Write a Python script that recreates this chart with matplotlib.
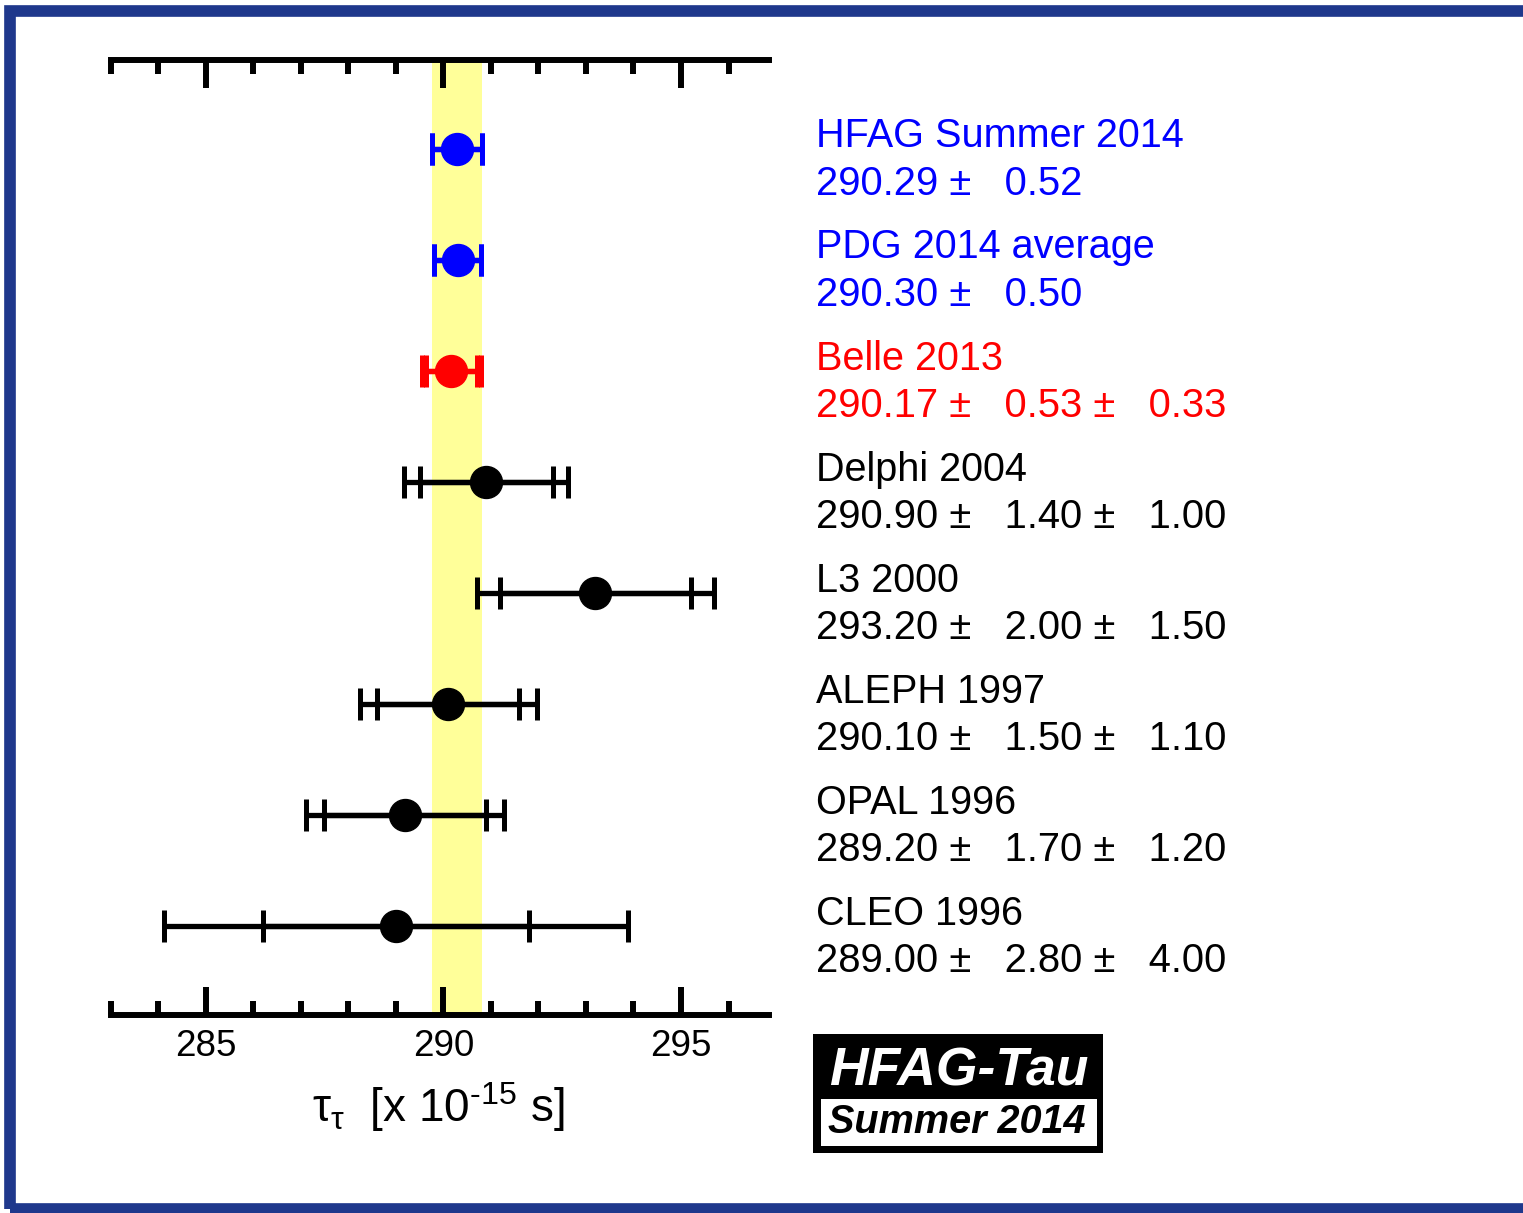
import matplotlib
matplotlib.use("Agg")
import matplotlib.pyplot as plt
import matplotlib.transforms as mtransforms
from matplotlib.patches import Rectangle
from matplotlib.ticker import MultipleLocator
import numpy as np

plt.rcParams['font.family'] = ['Liberation Sans', 'DejaVu Sans']

# --- data (tau lifetime, units of 1e-15 s) ---
labels = ['HFAG Summer 2014', 'PDG 2014 average', 'Belle 2013', 'Delphi 2004',
          'L3 2000', 'ALEPH 1997', 'OPAL 1996', 'CLEO 1996']
values = [290.29, 290.30, 290.17, 290.90, 293.20, 290.10, 289.20, 289.00]
stat_err = [0.52, 0.50, 0.53, 1.40, 2.00, 1.50, 1.70, 2.80]
syst_err = [0.00, 0.00, 0.33, 1.00, 1.50, 1.10, 1.20, 4.00]
colors = ['blue', 'blue', 'red', 'black', 'black', 'black', 'black', 'black']

avg_value = values[0]
avg_err = stat_err[0]

W, H = 1523, 1213


def fx(px):
    return px / W


def fy(py):
    return 1 - py / H


fig = plt.figure(figsize=(W / 100, H / 100), dpi=100)
ax = fig.add_axes([fx(110.5), fy(1014.7), (769 - 110.5) / W, (1014.7 - 59.7) / H])

n = len(values)
ypos = np.arange(n, 0, -1)  # top row first
vals = np.array(values)
stat = np.array(stat_err)
tot = np.sqrt(stat ** 2 + np.array(syst_err) ** 2)

ax.axvspan(avg_value - avg_err, avg_value + avg_err, color='#ffff99', zorder=0, lw=0)

for i in range(n):
    for err in (tot[i], stat[i]):
        ax.errorbar(vals[i], ypos[i], xerr=err, fmt='none', ecolor=colors[i],
                    elinewidth=3.8, capsize=11.5, capthick=3.6, zorder=2)
    ax.plot(vals[i], ypos[i], 'o', color=colors[i], ms=23, zorder=3)

ax.set_xlim(283, 296.85)
ax.set_ylim(0.2, 8.8)
ax.xaxis.set_major_locator(MultipleLocator(5))
ax.xaxis.set_minor_locator(MultipleLocator(1))
ax.set_yticks([])
for s in ('left', 'right'):
    ax.spines[s].set_visible(False)
for s in ('top', 'bottom'):
    ax.spines[s].set_linewidth(4.3)
ax.tick_params(axis='x', which='both', direction='in', top=True, bottom=True,
               labeltop=False, width=4.3)
ax.tick_params(axis='x', which='major', length=20, labelsize=26.5, pad=10)
ax.tick_params(axis='x', which='minor', length=10)

# text block on the right
trans = mtransforms.blended_transform_factory(fig.transFigure, ax.transData)
for i in range(n):
    if syst_err[i] > 0:
        txt = f"{values[i]:.2f} ± {stat_err[i]:6.2f} ± {syst_err[i]:6.2f}"
    else:
        txt = f"{values[i]:.2f} ± {stat_err[i]:6.2f}"
    ax.text(fx(816), ypos[i] + 0.01, labels[i], transform=trans, color=colors[i],
            fontsize=28.5, va='baseline', ha='left', clip_on=False)
    ax.text(fx(816), ypos[i] - 0.415, txt, transform=trans, color=colors[i],
            fontsize=28.8, va='baseline', ha='left', clip_on=False)

# axis title
hy = '\u2010'
fig.text(fx(438), fy(1122),
         r'$\mathregular{\tau_{\tau}}$  [x 10$^{\mathregular{' + hy + r'15}}$ s]',
         fontsize=33, ha='center', va='baseline')

# HFAG-Tau logo
fig.add_artist(Rectangle((fx(812.7), fy(1153)), (1103 - 812.7) / W, (1153 - 1034) / H,
                         transform=fig.transFigure, facecolor='black', edgecolor='none'))
fig.add_artist(Rectangle((fx(821), fy(1146)), (1096.7 - 821) / W, (1146 - 1099) / H,
                         transform=fig.transFigure, facecolor='white', edgecolor='none'))
fig.text(fx(958.5), fy(1085), 'HFAG-Tau', color='white', fontsize=38.5,
         fontweight='bold', fontstyle='italic', ha='center', va='baseline')
fig.text(fx(957), fy(1133), 'Summer 2014', color='black', fontsize=28.5,
         fontweight='bold', fontstyle='italic', ha='center', va='baseline')

# blue frame
fig.add_artist(Rectangle((fx(10.2), fy(1208.5)), 1.05, (1208.5 - 10.9) / H,
                         transform=fig.transFigure, fill=False, edgecolor='#1f388c',
                         lw=8.4, clip_on=False))

fig.savefig('out.png', dpi=100)
